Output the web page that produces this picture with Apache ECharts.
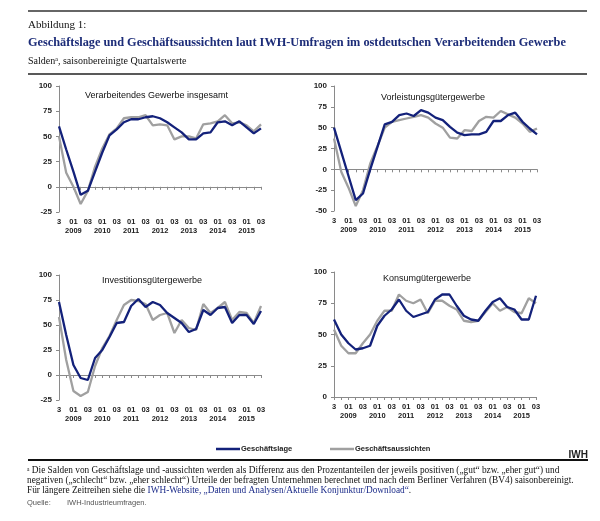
<!DOCTYPE html>
<html>
<head>
<meta charset="utf-8">
<script src="https://cdn.jsdelivr.net/npm/echarts@6/dist/echarts.min.js"></script>
<style>
html,body{margin:0;padding:0;background:#fff;}
#chart{width:600px;height:521px;}
</style>
</head>
<body>
<div id="chart"></div>
<script>
const quarters = ['2008Q3','2008Q4','2009Q1','2009Q2','2009Q3','2009Q4','2010Q1','2010Q2','2010Q3','2010Q4','2011Q1','2011Q2','2011Q3','2011Q4','2012Q1','2012Q2','2012Q3','2012Q4','2013Q1','2013Q2','2013Q3','2013Q4','2014Q1','2014Q2','2014Q3','2014Q4','2015Q1','2015Q2','2015Q3'];

const panelTitles = ['Verarbeitendes Gewerbe insgesamt','Vorleistungsgütergewerbe','Investitionsgütergewerbe','Konsumgütergewerbe'];
const seriesNames = ['Geschäftslage','Geschäftsaussichten'];

const lageGesamt = [60, 37, 15, -8, -4, 15, 34, 51, 57, 64, 67, 67, 69, 70, 68, 64, 59, 54, 47, 47, 53, 54, 64, 65, 61, 65, 59, 53, 58];
const ausGesamt  = [50, 14, 0, -17, -4, 20, 38, 52, 58, 68, 69, 69, 71, 61, 62, 61, 47, 50, 50, 48, 62, 63, 65, 71, 63, 64, 61, 55, 62];

const lageVor = [50, 21, -8, -37, -29, 0, 27, 54, 57, 65, 67, 64, 71, 68, 62, 59, 51, 44, 41, 42, 42, 45, 58, 58, 65, 68, 57, 49, 42];
const ausVor  = [37, -3, -22, -44, -25, 7, 28, 50, 57, 59, 61, 63, 65, 62, 55, 50, 38, 37, 47, 46, 58, 63, 62, 70, 66, 62, 55, 45, 49];

const lageInv = [73, 40, 10, -3, -5, 17, 25, 38, 52, 53, 69, 76, 68, 73, 70, 62, 57, 52, 43, 46, 65, 60, 67, 68, 52, 60, 60, 51, 64];
const ausInv  = [58, 15, -16, -21, -17, 9, 27, 39, 55, 70, 75, 74, 71, 55, 60, 62, 42, 55, 47, 45, 71, 62, 67, 73, 55, 63, 62, 52, 69];

const lageKon = [62, 50, 43, 38, 39, 41, 57, 65, 70, 78, 69, 64, 66, 68, 78, 82, 82, 73, 65, 62, 61, 69, 76, 79, 72, 70, 62, 62, 81];
const ausKon  = [54, 41, 35, 35, 43, 50, 61, 69, 69, 82, 77, 75, 78, 67, 77, 77, 73, 70, 61, 60, 61, 68, 75, 69, 72, 68, 67, 79, 75];

const yMins = [-25, -50, -25, 0];
const yMaxs = [100, 100, 100, 100];

const panelData = [[lageGesamt, ausGesamt],[lageVor, ausVor],[lageInv, ausInv],[lageKon, ausKon]];

const BLUE = '#13217a';
const GRAY = '#a0a0a0';
const AXIS = '#8a8a8a';
const SANS = "'Liberation Sans', Arial, sans-serif";
const SERIF = "'Liberation Serif', 'Times New Roman', serif";

const grids = [
  {left: 59, top: 86, width: 202, height: 126},
  {left: 334, top: 86, width: 203, height: 125},
  {left: 59, top: 275, width: 202, height: 125},
  {left: 334, top: 272, width: 202, height: 125}
];
const titlePos = [[85, 96],[381, 98],[102, 281],[383, 279]];

function xLabel(value, idx) {
  const yr = value.slice(0, 4), q = value.slice(4);
  if (idx === 0) return '3';
  if (q === 'Q1') return '01\n' + yr;
  if (q === 'Q3') return '03';
  return '';
}

const xAxes = [], yAxes = [], series = [];
grids.forEach((g, i) => {
  xAxes.push({
    type: 'category', gridIndex: i, data: quarters, boundaryGap: false,
    axisLine: {show: true, onZero: true, lineStyle: {color: AXIS, width: 1}},
    axisTick: {show: true, interval: 0, length: 3, lineStyle: {color: AXIS}},
    axisLabel: {show: false}, splitLine: {show: false}
  });
  xAxes.push({
    type: 'category', gridIndex: i, data: quarters, boundaryGap: false, position: 'bottom',
    axisLine: {show: false, onZero: false}, axisTick: {show: false}, splitLine: {show: false},
    axisLabel: {show: true, interval: 0, margin: 5, fontSize: 7.5, fontWeight: 'bold', fontFamily: SANS,
      color: '#222', lineHeight: 9.5, formatter: xLabel}
  });
  yAxes.push({
    type: 'value', gridIndex: i, min: yMins[i], max: yMaxs[i], interval: 25,
    axisLine: {show: true, lineStyle: {color: AXIS, width: 1}},
    axisTick: {show: true, length: 3, lineStyle: {color: AXIS}},
    splitLine: {show: false},
    axisLabel: {margin: 7, fontSize: 8, fontWeight: 'bold', fontFamily: SANS, color: '#222'}
  });
  series.push({
    name: seriesNames[1], type: 'line', xAxisIndex: 2 * i, yAxisIndex: i,
    data: panelData[i][1], symbol: 'none', lineStyle: {color: GRAY, width: 2.3}, itemStyle: {color: GRAY},
    z: 2, animation: false
  });
  series.push({
    name: seriesNames[0], type: 'line', xAxisIndex: 2 * i, yAxisIndex: i,
    data: panelData[i][0], symbol: 'none', lineStyle: {color: BLUE, width: 2.3}, itemStyle: {color: BLUE},
    z: 3, animation: false
  });
});

const FN = 9.3;
const graphics = [
  {type: 'line', shape: {x1: 28, y1: 11, x2: 587, y2: 11}, style: {stroke: '#333', lineWidth: 1.5}},
  {type: 'text', x: 28, y: 25, style: {text: 'Abbildung 1:', font: "11px " + SERIF, fill: '#111', textVerticalAlign: 'middle'}},
  {type: 'text', x: 28, y: 43, style: {text: 'Geschäftslage und Geschäftsaussichten laut IWH-Umfragen im ostdeutschen Verarbeitenden Gewerbe', font: "bold 12.3px " + SERIF, fill: '#1c2c78', textVerticalAlign: 'middle'}},
  {type: 'text', x: 28, y: 61, style: {text: 'Saldenᵃ, saisonbereinigte Quartalswerte', font: "10px " + SERIF, fill: '#111', textVerticalAlign: 'middle'}},
  {type: 'line', shape: {x1: 28, y1: 74, x2: 587, y2: 74}, style: {stroke: '#222', lineWidth: 1.5}},
  {type: 'text', x: 588, y: 455, style: {text: 'IWH', font: "bold 10px " + SANS, fill: '#222', textAlign: 'right', textVerticalAlign: 'middle'}},
  {type: 'line', shape: {x1: 28, y1: 460, x2: 588, y2: 460}, style: {stroke: '#111', lineWidth: 2}},
  {type: 'text', x: 27, y: 470.5, style: {text: 'ᵃ Die Salden von Geschäftslage und -aussichten werden als Differenz aus den Prozentanteilen der jeweils positiven („gut“ bzw. „eher gut“) und', font: FN + "px " + SERIF, fill: '#111', textVerticalAlign: 'middle'}},
  {type: 'text', x: 27, y: 480.5, style: {text: 'negativen („schlecht“ bzw. „eher schlecht“) Urteile der befragten Unternehmen berechnet und nach dem Berliner Verfahren (BV4) saisonbereinigt.', font: FN + "px " + SERIF, fill: '#111', textVerticalAlign: 'middle'}},
  {type: 'text', x: 27, y: 490.5, style: {
    text: '{n|Für längere Zeitreihen siehe die }{b|IWH-Website, „Daten und Analysen/Aktuelle Konjunktur/Download“}{n|.}',
    rich: {n: {fontFamily: SERIF, fontSize: FN, fill: '#111', color: '#111'}, b: {fontFamily: SERIF, fontSize: FN, color: '#1c2c8a', fill: '#1c2c8a'}},
    textVerticalAlign: 'middle'}},
  {type: 'text', x: 27, y: 503, style: {text: 'Quelle:', font: "7.5px " + SANS, fill: '#555', textVerticalAlign: 'middle'}},
  {type: 'text', x: 67, y: 503, style: {text: 'IWH-Industrieumfragen.', font: "7.5px " + SANS, fill: '#555', textVerticalAlign: 'middle'}}
];
titlePos.forEach((p, i) => {
  graphics.push({type: 'text', x: p[0], y: p[1], style: {text: panelTitles[i], font: "9px " + SANS, fill: '#111', textVerticalAlign: 'middle'}});
});

const legendCommon = {
  orient: 'horizontal', icon: 'rect', itemWidth: 24, itemHeight: 2.5, itemGap: 0,
  textStyle: {fontSize: 7.5, fontWeight: 'bold', fontFamily: SANS, color: '#222', padding: [0, 0, 0, -4]},
  selectedMode: false
};

const chart = echarts.init(document.getElementById('chart'), null, {renderer: 'canvas'});
chart.setOption({
  backgroundColor: '#fff',
  animation: false,
  grid: grids,
  xAxis: xAxes,
  yAxis: yAxes,
  series: series,
  legend: [
    Object.assign({}, legendCommon, {data: [seriesNames[0]], left: 211, top: 440}),
    Object.assign({}, legendCommon, {data: [seriesNames[1]], left: 325, top: 440})
  ],
  graphic: graphics
});
</script>
</body>
</html>
